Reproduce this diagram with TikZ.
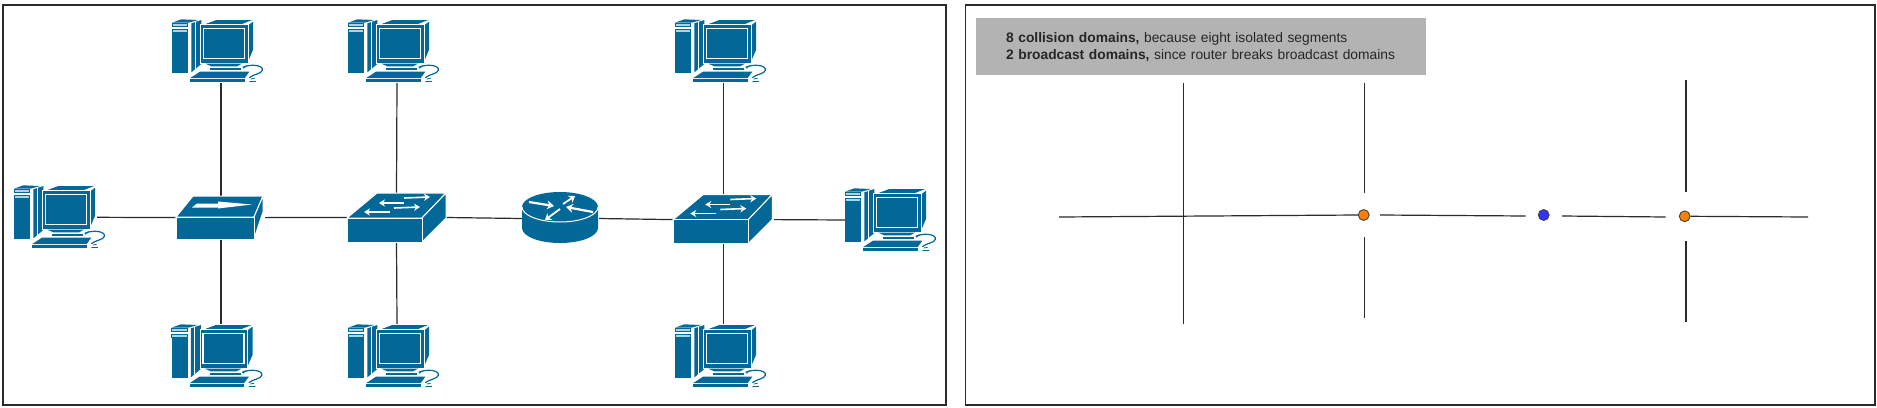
\documentclass[tikz,border=0pt]{standalone}
\usepackage{fontspec}
\setmainfont{Liberation Sans}
\usetikzlibrary{arrows.meta}
\definecolor{ciscoblue}{HTML}{036897}
\definecolor{panelgrey}{HTML}{B3B3B3}
\definecolor{dotorange}{HTML}{FF8000}
\definecolor{dotblue}{HTML}{3333FF}
\definecolor{inkline}{HTML}{2B2B2B}
\tikzset{
  x=0.5pt,y=-0.5pt,
  panel/.style={draw=inkline,line width=0.7pt,fill=white},
  link/.style={draw=inkline,line width=0.6pt},
  hitbox/.style 2 args={inner sep=0pt,outer sep=0pt,minimum width=#1*0.5pt,minimum height=#2*0.5pt},
  iconfill/.style={fill=ciscoblue,draw=none},
  whiteedge/.style={draw=white,line width=0.5pt},
  whitearrow/.style={draw=white,line width=0.8pt,-{Stealth[length=3pt,width=3.6pt]}},
  dot/.style={circle,draw=black!75,line width=0.45pt,inner sep=0pt,minimum size=5.4pt},
  pics/pcicon/.style={code={
    % tower
    \fill[ciscoblue] (0,43) rectangle (48,163);
    \fill[ciscoblue] (0,11) -- (28,1) -- (78,3) -- (50,11) -- cycle;
    \draw[ciscoblue,fill=white!70!ciscoblue,line width=0.4pt] (1,14) rectangle (47,21);
    \draw[ciscoblue,fill=white!70!ciscoblue,line width=0.4pt] (1,31) rectangle (47,39);
    \fill[ciscoblue] (58,13) -- (88,3) -- (88,135) -- (58,160) -- cycle;
    \draw[white,line width=0.6pt] (70,8) -- (70,150);
    % monitor
    \fill[ciscoblue] (101,15) -- (133,3) -- (240,3) -- (210,15) -- cycle;
    \fill[ciscoblue] (230,18) -- (243,8) -- (243,93) -- (230,123) -- cycle;
    \draw[white,line width=0.5pt,fill=ciscoblue] (86,17) rectangle (228,134);
    \draw[white,line width=0.8pt] (94,28) rectangle (218,118);
    % base
    \fill[ciscoblue] (100,134) -- (210,134) -- (195,142) -- (118,142) -- cycle;
    \fill[ciscoblue] (114,146) rectangle (208,153);
    % keyboard
    \fill[ciscoblue] (84,158) -- (232,158) -- (218,177) -- (55,177) -- cycle;
    \fill[ciscoblue] (55,180) rectangle (218,188);
    % cable
    \draw[ciscoblue,line width=0.6pt] (212,145) .. controls (235,134) and (275,138) .. (271,154) .. controls (268,165) and (245,165) .. (232,176);
    \draw[ciscoblue,line width=0.4pt] (224,140) -- (214,148) (232,188) -- (252,187) (236,180) -- (248,178);
  }},
  pics/switchicon/.style={code={
    \draw[whiteedge,fill=ciscoblue] (30,-25) -- (99,-25) -- (75,0) -- (0,0) -- cycle;
    \draw[whiteedge,fill=ciscoblue] (99,-25) -- (99,0) -- (75,24) -- (75,0) -- cycle;
    \draw[whiteedge,fill=ciscoblue] (0,0) rectangle (75,24);
    \draw[whitearrow] (57,-20) -- (83,-21);
    \draw[whitearrow] (57,-15) -- (32,-15);
    \draw[whitearrow] (47,-10) -- (73,-11);
    \draw[whitearrow] (43,-6) -- (17,-6);
  }}
}
\begin{document}
\begin{tikzpicture}
\useasboundingbox (0,0) rectangle (1877,407);
\path[panel] (3,5) rectangle (946,405);
\path[panel] (965.5,5) rectangle (1875,405);

% invisible anchors of the network devices
\node[hitbox={88}{43}] (hub) at (221,217.6) {};
\node[hitbox={99}{49}] (swa) at (396.5,217.5) {};
\node[hitbox={77}{51}] (router) at (560.5,218.5) {};
\node[hitbox={101}{47}] (swb) at (723.5,219.6) {};
\node[hitbox={84}{63}] (pcleft) at (55,217.3) {};
\node[hitbox={90}{63}] (pcright) at (890,220) {};
\node[hitbox={90}{63},anchor=south] (pcta) at (221,83) {};
\node[hitbox={90}{63},anchor=south] (pctb) at (397,83) {};
\node[hitbox={90}{63},anchor=south] (pctc) at (723.5,83) {};
\node[hitbox={90}{63},anchor=north] (pcba) at (221,324) {};
\node[hitbox={90}{63},anchor=north] (pcbb) at (397,324) {};
\node[hitbox={90}{63},anchor=north] (pcbc) at (723.5,324) {};

% connectors, left panel
\draw[link] (pcleft.east) -- (hub.west);
\draw[link] (hub.east) -- (swa.west);
\draw[link] (swa.east) -- (router.west);
\draw[link] (router.east) -- (swb.west);
\draw[link] (swb.east) -- (pcright.west);
\draw[link] (pcta.south) -- (hub.north);
\draw[link] (hub.south) -- (pcba.north);
\draw[link] (pctb.south) -- (swa.north);
\draw[link] (swa.south) -- (pcbb.north);
\draw[link] (pctc.south) -- (swb.north);
\draw[link] (swb.south) -- (pcbc.north);

% icons
\pic at (172,19) [scale=1/3] {pcicon};
\pic at (348,19) [scale=1/3] {pcicon};
\pic at (675,19) [scale=1/3] {pcicon};
\pic at (14,185) [scale=1/3] {pcicon};
\pic at (845,188) [scale=1/3] {pcicon};
\pic at (171.5,324) [scale=1/3] {pcicon};
\pic at (348,324) [scale=1/3] {pcicon};
\pic at (675,324) [scale=1/3] {pcicon};

% hub
\draw[whiteedge,fill=ciscoblue] (193,196) -- (263,196) -- (254,217) -- (176,217) -- cycle;
\draw[whiteedge,fill=ciscoblue] (263,196) -- (263,212) -- (254,239) -- (254,217) -- cycle;
\draw[whiteedge,fill=ciscoblue] (176,217) rectangle (254,239);
\fill[white] (192,207.5) -- (197,203.5) -- (218,203.5) -- (218,201.5) -- (252,204.5) -- (218,208.5) -- (218,207.5) -- cycle;

% switches
\pic at (347,218) {switchicon};
\pic at (673.3,219.5) {switchicon};

% router
\fill[ciscoblue] (522,207) -- (522,228) arc[start angle=180,end angle=0,x radius=38,y radius=15] -- (598,207) -- cycle;
\fill[ciscoblue] (560,207) ellipse[x radius=38,y radius=15];
\draw[white,line width=0.5pt] (522,207) arc[start angle=180,end angle=0,x radius=38,y radius=15];
\draw[white,line width=1.1pt,-{Stealth[length=3.5pt,width=4.5pt]}] (529,202) -- (554,206);
\draw[white,line width=0.9pt,-{Stealth[length=3pt,width=4.2pt]}] (563,204) -- (575,196);
\draw[white,line width=0.9pt,-{Stealth[length=3pt,width=4.2pt]}] (560,209) -- (545,220);
\draw[white,line width=1.1pt,-{Stealth[length=3.5pt,width=4.5pt]}] (593,212) -- (566,207);

% right panel
\node[fill=panelgrey,inner sep=0pt,anchor=north west,minimum width=225pt,minimum height=28.5pt,text width=210pt,align=left,font=\fontsize{6.9pt}{8.5pt}\selectfont,text=black!85] (info) at (975.7,18)
  {\hspace*{7.5pt}\textbf{8 collision domains,} because eight isolated segments\\\hspace*{7.5pt}\textbf{2 broadcast domains,} since router breaks broadcast domains};

\coordinate (hl) at (1059,217);
\coordinate (ga) at (1380,215);
\coordinate (gb) at (1525.7,216);
\coordinate (gc) at (1562,216);
\coordinate (gd) at (1665.7,217);
\coordinate (he) at (1808,217);
\coordinate (vat) at (1183.7,83);
\coordinate (vab) at (1183.7,324);
\coordinate (vbt) at (1364.7,83);
\coordinate (vbm) at (1364.7,193);
\coordinate (vbn) at (1364.7,237);
\coordinate (vbb) at (1364.7,318);
\coordinate (vct) at (1686,80);
\coordinate (vcm) at (1686,192);
\coordinate (vcn) at (1686,241);
\coordinate (vcb) at (1686,322);
\node[dot,fill=dotorange] (oa) at (1363.7,215) {};
\node[dot,fill=dotblue] (ba) at (1543.7,215) {};
\node[dot,fill=dotorange] (ob) at (1684.7,216.3) {};

\draw[link] (hl) -- (oa.west);
\draw[link] (ga) -- (gb);
\draw[link] (gc) -- (gd);
\draw[link] (ob.east) -- (he);
\draw[link] (vat) -- (vab);
\draw[link] (vbt) -- (vbm);
\draw[link] (vbn) -- (vbb);
\draw[link] (vct) -- (vcm);
\draw[link] (vcn) -- (vcb);
\end{tikzpicture}
\end{document}
